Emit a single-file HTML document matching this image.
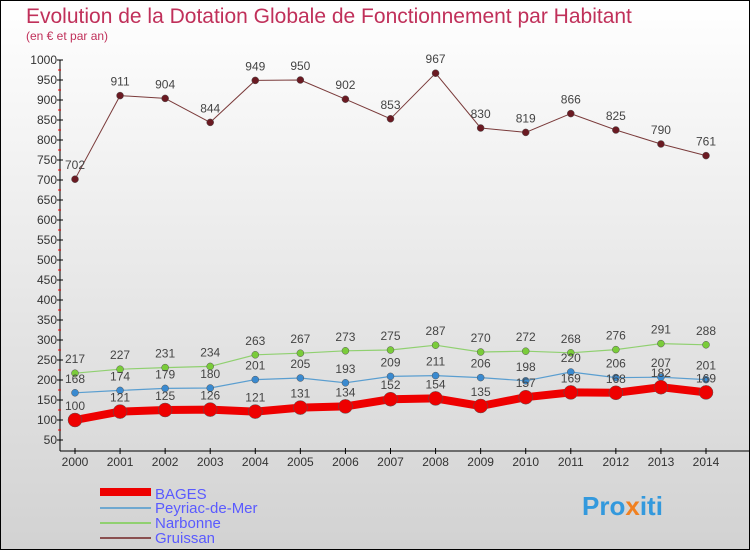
<!DOCTYPE html>
<html><head><meta charset="utf-8"><style>
body{margin:0}
svg text{font-family:"Liberation Sans",sans-serif}
</style></head><body>
<svg id="c" width="750" height="550" viewBox="0 0 750 550" xmlns="http://www.w3.org/2000/svg">
<defs><linearGradient id="bg" x1="0" y1="0" x2="0" y2="1"><stop offset="0" stop-color="#ffffff"/><stop offset="1" stop-color="#d2d2d2"/></linearGradient></defs>
<rect x="0.5" y="0.5" width="749" height="549" fill="url(#bg)" stroke="#000"/>
<text x="26" y="23" font-size="21" fill="#c0305a">Evolution de la Dotation Globale de Fonctionnement par Habitant</text>
<text x="26" y="40" font-size="12" fill="#c0305a">(en € et par an)</text>
<g id="axes"></g><g id="series"></g>
<g>
<rect x="100" y="488" width="51" height="8" fill="#e00"/>
<text x="155" y="499" font-size="15" fill="#5a5aff">BAGES</text>
<line x1="100" y1="508" x2="151" y2="508" stroke="#6fa8d0" stroke-width="2"/>
<text x="155" y="513" font-size="15" fill="#5a5aff">Peyriac-de-Mer</text>
<line x1="100" y1="523" x2="151" y2="523" stroke="#90d070" stroke-width="2"/>
<text x="155" y="528" font-size="15" fill="#5a5aff">Narbonne</text>
<line x1="100" y1="538" x2="151" y2="538" stroke="#8a5050" stroke-width="2"/>
<text x="155" y="543" font-size="15" fill="#5a5aff">Gruissan</text>
</g>
<text x="582" y="515" font-size="26" font-weight="bold" fill="#3399dd">Pro<tspan fill="#f08020">x</tspan>iti</text>
</svg>
<script>
const years=[2000,2001,2002,2003,2004,2005,2006,2007,2008,2009,2010,2011,2012,2013,2014];
const yTicks=[50,100,150,200,250,300,350,400,450,500,550,600,650,700,750,800,850,900,950,1000];
const bages=[100,121,125,126,121,131,134,152,154,135,157,169,168,182,169];
const peyriac=[168,174,179,180,201,205,193,209,211,206,198,220,206,207,201];
const narbonne=[217,227,231,234,263,267,273,275,287,270,272,268,276,291,288];
const gruissan=[702,911,904,844,949,950,902,853,967,830,819,866,825,790,761];
const NS="http://www.w3.org/2000/svg";
const xS=i=>75+i*(631/14);
const yS=v=>60+(1000-v)*0.4;
function mk(t,a,p){const e=document.createElementNS(NS,t);for(const k in a)e.setAttribute(k,a[k]);p.appendChild(e);return e;}
const ax=document.getElementById('axes');
let e=mk('line',{x1:60,y1:60,x2:60,y2:451,stroke:'#000'},ax);


e=mk('line',{x1:60,y1:451,x2:750,y2:451,stroke:'#000'},ax);


yTicks.forEach(v=>{const y=yS(v);
 const l=mk('line',{x1:57,y1:y,x2:63,y2:y,stroke:'#000'},ax);
 
 
 if(v<1000){
 const m=mk('line',{x1:58,y1:y-10,x2:61,y2:y-10,stroke:'#e00'},ax);
 
 
 }
 const t=mk('text',{x:57,y:y+4,'font-size':12,fill:'#333','text-anchor':'end'},ax);t.textContent=v;
 
 
});
years.forEach((yr,i)=>{const x=xS(i);
 const l=mk('line',{x1:x,y1:448,x2:x,y2:454,stroke:'#000'},ax);
 
 
 const t=mk('text',{x:x,y:466,'font-size':12,fill:'#333','text-anchor':'middle'},ax);t.textContent=yr;
 
 
});
const sg=document.getElementById('series');
function series(name,vals,col,dot,w,r){
 const g=mk('g',{},sg);
 
 
 const pl=mk('polyline',{points:vals.map((v,i)=>xS(i)+','+yS(v)).join(' '),fill:'none',stroke:col,'stroke-width':w,'stroke-linejoin':'round'},g);
 
 
 vals.forEach((v,i)=>{
  const c=mk('circle',{cx:xS(i),cy:yS(v),r:r,fill:dot,stroke:'#555','stroke-width':0.5},g);
  
  
  const t=mk('text',{x:xS(i),y:yS(v)-10,'font-size':12,fill:'#444','text-anchor':'middle'},g);t.textContent=v;
  
  
 });
}
series('gruissan',gruissan,'#7a3a3a','#6a1a22',1,3.5);
series('narbonne',narbonne,'#90d070','#7acc3a',1.2,3.5);
series('peyriac',peyriac,'#5a9ed0','#3a8ad0',1.2,3.5);
series('bages',bages,'#ee0000','#ee0000',8,7);
</script>
</body></html>
